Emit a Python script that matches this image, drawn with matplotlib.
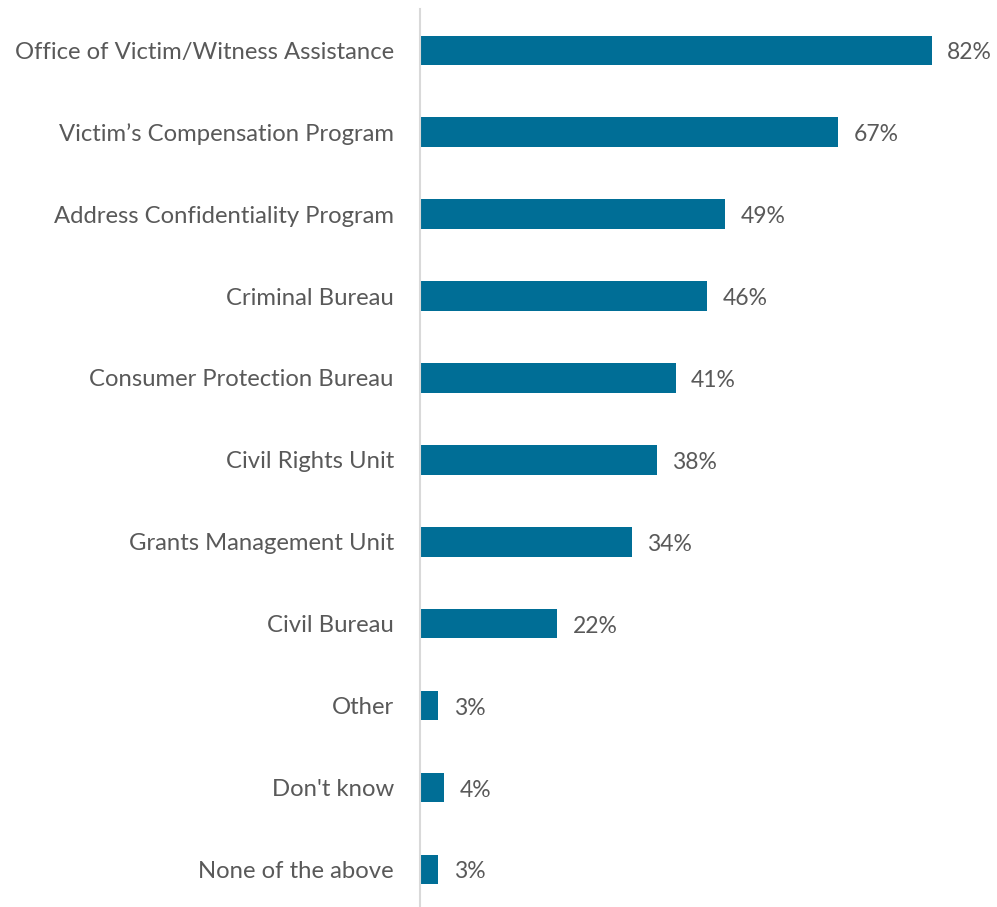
import matplotlib.pyplot as plt

categories = [
    "Office of Victim/Witness Assistance",
    "Victim\u2019s Compensation Program",
    "Address Confidentiality Program",
    "Criminal Bureau",
    "Consumer Protection Bureau",
    "Civil Rights Unit",
    "Grants Management Unit",
    "Civil Bureau",
    "Other",
    "Don't know",
    "None of the above",
]
values = [82, 67, 49, 46, 41, 38, 34, 22, 3, 4, 3]

BAR_COLOR = "#006E96"
TEXT_COLOR = "#595959"

plt.rcParams['font.family'] = ['Lato', 'DejaVu Sans']

W, H = 997, 907
fig = plt.figure(figsize=(W / 100, H / 100), dpi=100)
px_per_pct = 6.244
left_px = 419.5
ax = fig.add_axes([left_px / W, 0, 1 - left_px / W, 1 - 9 / H])

y = list(range(len(categories)))
ax.barh(y, values, height=0.36, color=BAR_COLOR)
ax.set_xlim(0, (W - left_px) / px_per_pct)
ax.set_ylim(10.458, -0.504)

for yi, v in zip(y, values):
    ax.text(v + 2.5, yi + 0.03, f"{v}%", va='center', ha='left', fontsize=16.5, color=TEXT_COLOR)

ax.set_yticks(y)
ax.set_yticklabels(categories, fontsize=17.2, color=TEXT_COLOR)
ax.tick_params(axis='y', length=0, pad=18.5)
ax.set_xticks([])

for side in ['top', 'right', 'bottom']:
    ax.spines[side].set_visible(False)
ax.spines['left'].set_color('#d9d9d9')
ax.spines['left'].set_linewidth(1.5)

fig.savefig("out.png", dpi=100)
